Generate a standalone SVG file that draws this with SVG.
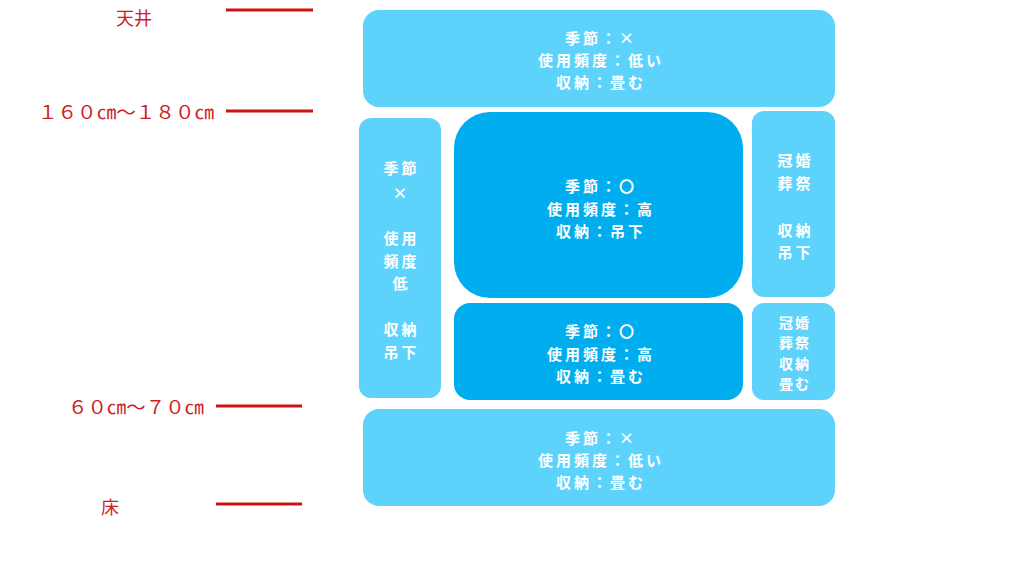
<svg xmlns="http://www.w3.org/2000/svg" width="1024" height="576" viewBox="0 0 1024 576">
<style>
.lt{fill:#5DD3FC}
.dk{fill:#00AEEF}
.t{fill:#fff;font-family:"Noto Sans CJK JP","Noto Sans",sans-serif;font-weight:bold;font-size:15px;letter-spacing:3px;text-anchor:middle;dominant-baseline:central}
.ts{font-size:14px;letter-spacing:2px}
.r{fill:#CC1F1F;font-family:"Noto Sans CJK JP","Noto Sans",sans-serif;font-size:18px;dominant-baseline:central}
.ln{stroke:#CC1111;stroke-width:3}
</style>
<rect width="1024" height="576" fill="#fff"/>
<g id="scale">
<line class="ln" x1="226" y1="10" x2="313" y2="10"/>
<line class="ln" x1="226" y1="111" x2="313" y2="111"/>
<line class="ln" x1="216" y1="406" x2="302" y2="406"/>
<line class="ln" x1="216" y1="504" x2="302" y2="504"/>
<text class="r" x="134" y="17" text-anchor="middle">天井</text>
<text class="r" x="214" y="111" text-anchor="end" textLength="176" lengthAdjust="spacingAndGlyphs">１６０㎝～１８０㎝</text>
<text class="r" x="204" y="406" text-anchor="end" textLength="136" lengthAdjust="spacingAndGlyphs">６０㎝～７０㎝</text>
<text class="r" x="110" y="506" text-anchor="middle">床</text>
</g>
<g id="top">
<rect class="lt" x="363" y="10" width="472" height="97" rx="16"/>
<text class="t"><tspan x="601" y="37">季節：×</tspan><tspan x="601" y="59">使用頻度：低い</tspan><tspan x="601" y="81">収納：畳む</tspan></text>
</g>
<g id="left">
<rect class="lt" x="359" y="118" width="82" height="280" rx="12"/>
<text class="t"><tspan x="401.5" y="167">季節</tspan><tspan x="401.5" y="192">×</tspan><tspan x="401.5" y="237">使用</tspan><tspan x="401.5" y="260">頻度</tspan><tspan x="401.5" y="282">低</tspan><tspan x="401.5" y="328">収納</tspan><tspan x="401.5" y="351">吊下</tspan></text>
</g>
<g id="center-upper">
<rect class="dk" x="454" y="112" width="289" height="186" rx="36"/>
<text class="t"><tspan x="601" y="185">季節：〇</tspan><tspan x="601" y="208">使用頻度：高</tspan><tspan x="601" y="230">収納：吊下</tspan></text>
</g>
<g id="center-lower">
<rect class="dk" x="454" y="303" width="289" height="97" rx="16"/>
<text class="t"><tspan x="601" y="330">季節：〇</tspan><tspan x="601" y="353">使用頻度：高</tspan><tspan x="601" y="375">収納：畳む</tspan></text>
</g>
<g id="right-upper">
<rect class="lt" x="752" y="111" width="83" height="186" rx="12"/>
<text class="t"><tspan x="795.5" y="159">冠婚</tspan><tspan x="795.5" y="182">葬祭</tspan><tspan x="795.5" y="229">収納</tspan><tspan x="795.5" y="251">吊下</tspan></text>
</g>
<g id="right-lower">
<rect class="lt" x="752" y="303" width="83" height="97" rx="12"/>
<text class="t ts"><tspan x="795" y="321.5">冠婚</tspan><tspan x="795" y="342">葬祭</tspan><tspan x="795" y="362.5">収納</tspan><tspan x="795" y="383">畳む</tspan></text>
</g>
<g id="bottom">
<rect class="lt" x="363" y="409" width="472" height="97" rx="16"/>
<text class="t"><tspan x="601" y="437">季節：×</tspan><tspan x="601" y="459">使用頻度：低い</tspan><tspan x="601" y="481">収納：畳む</tspan></text>
</g>
<g id="connectors"></g>
</svg>
